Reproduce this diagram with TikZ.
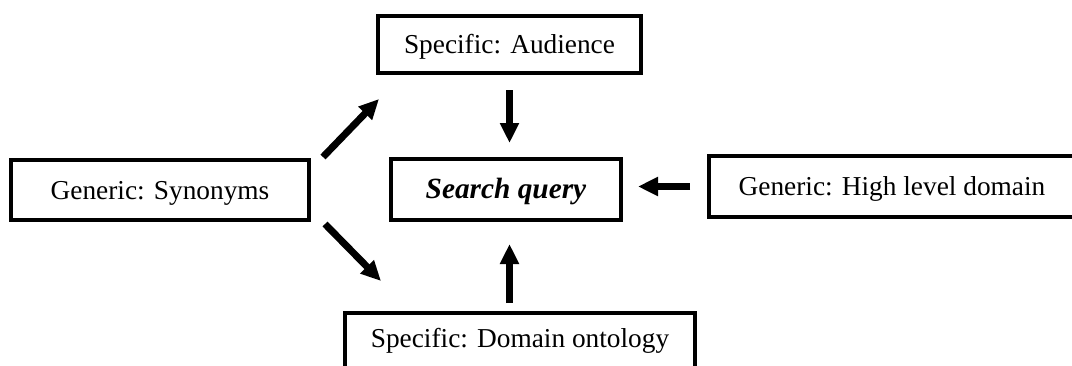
\documentclass[tikz,border=0pt]{standalone}
\usepackage{fontspec}
\setmainfont{Liberation Serif}
\usetikzlibrary{arrows.meta}

\tikzset{
    box/.style={draw, line width=3pt, inner sep=0pt, text height=13.5pt, text depth=0pt,
        font=\fontsize{20.5}{24}\selectfont},
    flow/.style={line width=5.25pt, -{Triangle[width=13.5pt,length=15pt]}},
}

\begin{document}
\begin{tikzpicture}[x=0.75pt,y=-0.75pt]
        \useasboundingbox (0,0) rectangle (1072,365);
        \clip (0,0) rectangle (1072,365);

        \node[box, minimum width=197.25pt, minimum height=42.75pt] (aud) at (509.5,44.5) {Specific: Audience};
        \node[box, minimum width=223.5pt, minimum height=45pt] (syn) at (160,190) {Generic: Synonyms};
        \node[box, minimum width=172.5pt, minimum height=45.75pt, font=\fontsize{22}{26}\selectfont\bfseries\itshape] (sq) at (506,189.5) {Search query};
        \node[box, minimum width=274.5pt, minimum height=45.75pt] (hld) at (892,186.5) {Generic: High level domain};
        \node[box, anchor=north, minimum width=262.5pt, inner ysep=12pt, text depth=12pt] (dom) at (520,311) {Specific: Domain ontology};

        \coordinate (upend) at (379,99);
        \coordinate (downend) at (381,281);

        \draw[flow] (aud.south) ++(0,15) -- ([yshift=10.5pt]aud.south |- sq.north);
        \draw[flow] ([yshift=6pt]dom.north -| aud.south) -- ([yshift=-16.5pt]sq.south -| aud.south);
        \draw[flow] ([xshift=-12.75pt]hld.west) -- ([xshift=11.25pt]hld.west -| sq.east);
        \draw[flow] ([shift={(12,-1)}]syn.north east) -- (upend);
        \draw[flow] ([shift={(14,2)}]syn.south east) -- (downend);
    \end{tikzpicture}
\end{document}
